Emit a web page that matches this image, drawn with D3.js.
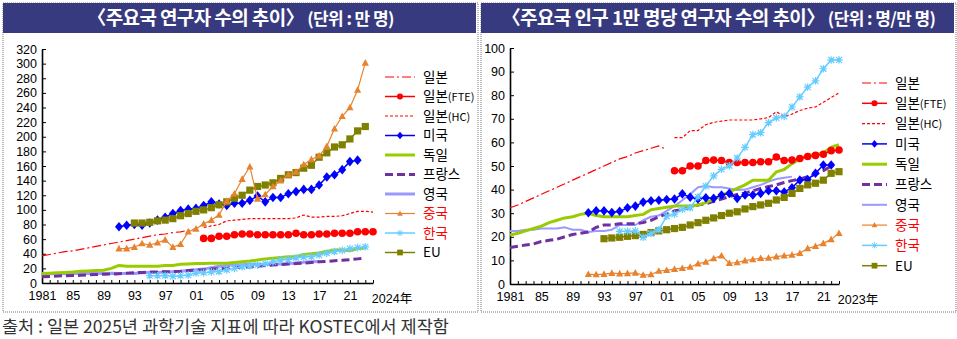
<!DOCTYPE html>
<html>
<head>
<meta charset="utf-8">
<script src="https://cdn.jsdelivr.net/npm/d3@7"></script>
<style>
  body { margin: 0; background: #fff; }
  text { font-family: "Liberation Sans", "Noto Sans CJK KR", sans-serif; }
</style>
</head>
<body>
<svg id="chart" width="957" height="339"></svg>
<script>
// ---- researchers, 만 명 ----
const cntJapanOldYears = d3.range(1981, 2002);
const cntJapanOld = [37,39,41,43,44,46,48,50,52,54,56,58,60,62,64,66,67,69,70,72,74];
const cntJapanFteYears = d3.range(2002, 2025);
const cntJapanFte = [61,61,64,64,66,67,67,66,66,66,66,66,68,66,66,67,67,68,68,68,70,70,70];
const cntJapanHcYears = d3.range(2002, 2025);
const cntJapanHc = [76,78,80,85,86,87,88,88,88,88,88,88,89,93,90,90,91,91,92,95,98,98,97];
const cntUsaYears = d3.range(1991, 2023);
const cntUsa = [77,79,80,79,82,86,90,95,99,101,102,106,111,108,106,109,109,113,119,111,117,117,122,125,128,128,134,145,148,155,166,168];
const cntGermanyYears = d3.range(1981, 2024);
const cntGermany = [13,13.5,14,14.5,15,16,16.5,17,17.5,20,24,23,23,23,23,23,24,24,25.5,26,26.5,26.5,27,27,27,28,29,30,31.5,33,34,35,36,36,39,40,41,43,45,45,44,47,48];
const cntFranceYears = d3.range(1981, 2024);
const cntFrance = [8.5,9,9.5,10,10.2,10.5,11,11.5,12,12.3,12.8,13.5,14,14.5,15,15.2,15.3,15.5,16,17,17.5,18,19,19.5,20,21,21.5,22,23,24,24.5,25,26,26.5,27,28,29,29.5,30.5,31,32,33,34];
const cntUkYears = d3.range(1981, 2018);
const cntUk = [12,12.5,12.5,12.5,13,13,13,13,13,13.5,13,13,13,14,14.5,14.5,15,15.5,16,17,18,19,21,23,24,25,25,25.5,25.5,25.5,25.5,26,26.5,27.5,28.5,29,29.5];
const cntChinaYears = d3.range(1991, 2024);
const cntChina = [47,47,49,54,52,55,59,49,53,70,74,81,86,93,112,122,142,159,115,121,132,140,148,152,162,169,174,187,211,228,240,264,301];
const cntKoreaYears = d3.range(1995, 2024);
const cntKorea = [10,10,10.3,9.2,10,10.8,13.6,14.1,15.2,15.7,17.9,20,22.2,23.6,24.4,26.4,28.8,31.6,32.2,34.5,35.6,36.1,38.3,40.8,43.1,44.6,47.1,48.4,49.5];
const cntEuYears = d3.range(1993, 2024);
const cntEu = [82,82,83,85,86,88,92,95,98,100,103,107,111,116,120,127,132,134,137,143,148,151,157,161,172,178,186,189,197,208,214];

// ---- researchers per 10,000 people ----
const perJapanOldYears = d3.range(1981, 2002);
const perJapanOld = [32.3,33.5,35,36.5,38,39.5,41,42.5,44,45.5,47,48.5,50,51.5,53,54,55.5,56.5,57.5,58.5,57];
const perJapanFteYears = d3.range(2002, 2024);
const perJapanFte = [48,48,50,50,52.3,52.5,52.3,51.5,51.5,51.5,51.5,51.8,51.8,53.8,52.3,52.5,53.2,54,54.5,55,56.5,56.8];
const perJapanHcYears = d3.range(2002, 2024);
const perJapanHc = [62,62,65,65,67.5,68.5,69,69.5,69.5,69.5,69.5,70,70.5,73,71,72,73.5,74.5,75,77,79,81];
const perUsaYears = d3.range(1991, 2023);
const perUsa = [30.2,31,31,30.3,30.8,32.3,33,34.7,35.3,35.5,35.8,36,38.2,36.8,36,36.5,36.3,37.7,38.4,36.3,37.7,37.7,38.4,39.5,39.5,39,40.8,44,44.3,46.9,50.4,50.4];
const perGermanyYears = d3.range(1981, 2024);
const perGermany = [20.8,21.5,22.5,23.5,24.5,26,27,28,28.5,29.5,30,29,28.5,28.5,28.5,28.5,29,29.5,31.5,32,32.5,33,33,33,33.5,34.5,36,37.5,39,40.5,42,44,44,44,47.5,48.5,51,53,54.5,55,55.5,58,59];
const perFranceYears = d3.range(1981, 2023);
const perFrance = [15.5,16,16.5,17,18,18.5,19,20,21,21.5,22,24,25,25,25.5,25.5,25.5,26,27,28.5,29.5,31,31.5,32.5,33.5,34,35,36,37,38,38.5,39.5,40.5,41.3,42,43,43.8,44.5,45.5,46.5,48,50];
const perUkYears = d3.range(1981, 2018);
const perUk = [22.5,22.5,23,23,23.5,23.5,23.5,24,23,23,22,22.5,22.5,23,25,25,25,27,28.5,29,31,33,35.5,38,41,41.5,41,41,40.5,39.8,40,41,42,43.4,44.5,45,45.5];
const perChinaYears = d3.range(1991, 2024);
const perChina = [4.1,4,4.2,4.6,4.4,4.5,4.7,3.8,4,5.5,5.8,6.3,6.7,7.2,8.6,9.3,10.8,12,8.8,9.1,9.9,10.4,10.9,11,11.6,12,12.3,13,15.1,16,17.2,18.9,21.5];
const perKoreaYears = d3.range(1995, 2024);
const perKorea = [22.3,22.3,22.5,19.8,21.4,23,28.7,29.6,31.6,32.3,36.9,41.5,45.8,48.6,50.1,53.4,57.9,63.3,64.1,68.4,70.4,71,75,79.3,83.4,86.1,91.2,94.9,95];
const perEuYears = d3.range(1993, 2024);
const perEu = [19.2,19.5,19.8,20.2,20.5,21,21.8,22.5,23,23.5,24,25,26,27,28,29,30,30.6,31.8,32.8,33.5,34.2,35.6,36.7,38.4,40.5,42,42.7,44,46.9,47.6];

const legendNames = ["일본", "일본(FTE)", "일본(HC)", "미국", "독일", "프랑스", "영국", "중국", "한국", "EU"];
const drawOrder = ["일본", "일본(HC)", "영국", "프랑스", "독일", "일본(FTE)", "미국", "EU", "중국", "한국"];
const redLabels = ["중국", "한국"];

const styles = {
  "일본":      { color: "#ff0000", width: 1.2, dash: "9,3,2,3" },
  "일본(FTE)": { color: "#ff0000", width: 1.5, marker: "circle" },
  "일본(HC)":  { color: "#ff0000", width: 1.2, dash: "3,2" },
  "미국":      { color: "#0000ff", width: 1.5, marker: "diamond" },
  "독일":      { color: "#99cc00", width: 3 },
  "프랑스":    { color: "#7030a0", width: 3, dash: "8,4" },
  "영국":      { color: "#9999ff", width: 3 },
  "중국":      { color: "#e8822e", width: 1.2, marker: "triangle" },
  "한국":      { color: "#66ccff", width: 1.5, marker: "star" },
  "EU":        { color: "#808000", width: 1.5, marker: "square" }
};

const markerPath = {
  circle: "M-3.8,0A3.8,3.8 0 1,0 3.8,0A3.8,3.8 0 1,0 -3.8,0Z",
  diamond: "M0,-4.8L4,0L0,4.8L-4,0Z",
  triangle: "M0,-3.8L3.6,2.8L-3.6,2.8Z",
  square: "M-3.6,-3.6H3.6V3.6H-3.6Z",
  star: "M-3,-3L3,3M-3,3L3,-3M0,-3.8V3.8M-3.8,0H3.8"
};

const svg = d3.select("#chart");

function drawMarker(g, kind, color, x, y, scale = 1) {
  const p = g.append("path")
    .attr("d", markerPath[kind])
    .attr("transform", `translate(${x},${y}) scale(${scale})`);
  if (kind === "star") p.attr("fill", "none").attr("stroke", color).attr("stroke-width", 1.2);
  else p.attr("fill", color);
}

function drawPanel(cfg) {
  const g = svg.append("g");

  // frame + title band
  g.append("rect").attr("x", cfg.frame[0]).attr("y", 3)
    .attr("width", cfg.frame[1] - cfg.frame[0]).attr("height", 309)
    .attr("fill", "none").attr("stroke", "#777").attr("stroke-dasharray", "1,1");
  g.append("rect").attr("x", cfg.frame[0]).attr("y", 3)
    .attr("width", cfg.frame[1] - cfg.frame[0] - 2).attr("height", 30)
    .attr("fill", "#373a7e");
  const title = g.append("text")
    .attr("x", (cfg.frame[0] + cfg.frame[1]) / 2).attr("y", 25)
    .attr("text-anchor", "middle").attr("fill", "#fff")
    .style("font-family", "'Noto Sans CJK KR', sans-serif")
    .style("font-weight", "bold").style("font-size", "19px")
    .style("letter-spacing", "-0.6px");
  title.append("tspan").text(cfg.title);
  title.append("tspan").style("font-size", "17px").text(" " + cfg.unit);

  const x = d3.scaleLinear().domain(cfg.xDomain).range(cfg.xRange);
  const y = d3.scaleLinear().domain(cfg.yDomain).range(cfg.yRange);

  // y axis
  g.append("g")
    .attr("transform", `translate(${cfg.xRange[0]},0)`)
    .call(d3.axisLeft(y).tickValues(d3.range(0, cfg.yDomain[1] + 1, cfg.yStep))
      .tickSizeInner(-4).tickSizeOuter(0).tickPadding(5))
    .call(a => a.select(".domain").attr("stroke-width", 1.6))
    .call(a => a.selectAll("text").style("font-size", "12.5px").attr("fill", "#000"));

  // x axis: a tick every year, labels every 4 years
  const years = d3.range(cfg.xDomain[0], cfg.xDomain[1] + 1);
  g.append("g")
    .attr("transform", `translate(0,${cfg.yRange[0]})`)
    .call(d3.axisBottom(x).tickValues(years).tickSizeInner(-3).tickSizeOuter(0).tickFormat(""))
    .call(a => a.select(".domain").attr("stroke-width", 1.6));
  const labelYears = d3.range(1981, 2022, 4);
  g.append("g")
    .attr("transform", `translate(0,${cfg.yRange[0]})`)
    .call(d3.axisBottom(x).tickValues(labelYears).tickSize(0).tickPadding(8)
      .tickFormat(d => d === 1981 ? "1981" : String(d % 100).padStart(2, "0")))
    .call(a => a.select(".domain").remove())
    .call(a => a.selectAll("text").style("font-size", "12.5px").attr("fill", "#000"));
  g.append("text")
    .attr("x", x(cfg.xDomain[1]) + cfg.endLabelShift).attr("y", cfg.yRange[0] + 20)
    .attr("text-anchor", "middle").style("font-size", "12.5px")
    .text(cfg.xDomain[1] + "年");

  // series
  const line = d3.line().x(d => x(d[0])).y(d => y(d[1]));
  drawOrder.forEach(name => {
    const s = cfg.series[name];
    const st = Object.assign({}, styles[name], (cfg.override || {})[name] || {});
    const pts = d3.zip(s.years, s.values);
    g.append("path").datum(pts)
      .attr("d", line).attr("fill", "none")
      .attr("stroke", st.color).attr("stroke-width", st.width)
      .attr("stroke-dasharray", st.dash || null)
      .attr("stroke-linejoin", "round");
    if (st.marker) pts.forEach(p => drawMarker(g, st.marker, st.color, x(p[0]), y(p[1])));
  });

  // legend
  legendNames.forEach((name, i) => {
    const st = Object.assign({}, styles[name], (cfg.override || {})[name] || {});
    const ly = cfg.legend.y0 + i * cfg.legend.step;
    g.append("line")
      .attr("x1", cfg.legend.x0).attr("x2", cfg.legend.x1)
      .attr("y1", ly).attr("y2", ly)
      .attr("stroke", st.color).attr("stroke-width", st.width)
      .attr("stroke-dasharray", st.dash || null);
    if (st.marker) drawMarker(g, st.marker, st.color, (cfg.legend.x0 + cfg.legend.x1) / 2, ly, 0.8);
    const t = g.append("text")
      .attr("x", cfg.legend.tx).attr("y", ly).attr("dy", "0.36em")
      .style("font-family", "'Noto Sans CJK KR', sans-serif").style("font-size", "13.5px")
      .attr("fill", redLabels.includes(name) ? "#ff0000" : "#000");
    const m = name.match(/^(.*?)(\(.*\))?$/);
    t.append("tspan").text(m[1]);
    if (m[2]) t.append("tspan").style("font-size", "11px").text(m[2]);
  });
}

drawPanel({
  frame: [3, 478],
  title: "〈주요국 연구자 수의 추이〉",
  unit: "(단위 : 만 명)",
  xDomain: [1981, 2024], xRange: [42, 373],
  yDomain: [0, 320], yRange: [283, 49], yStep: 20,
  endLabelShift: 19,
  legend: { x0: 385, x1: 415, tx: 423, y0: 77, step: 19.5 },
  series: {
    "일본": { years: cntJapanOldYears, values: cntJapanOld },
    "일본(FTE)": { years: cntJapanFteYears, values: cntJapanFte },
    "일본(HC)": { years: cntJapanHcYears, values: cntJapanHc },
    "미국": { years: cntUsaYears, values: cntUsa },
    "독일": { years: cntGermanyYears, values: cntGermany },
    "프랑스": { years: cntFranceYears, values: cntFrance },
    "영국": { years: cntUkYears, values: cntUk },
    "중국": { years: cntChinaYears, values: cntChina },
    "한국": { years: cntKoreaYears, values: cntKorea },
    "EU": { years: cntEuYears, values: cntEu }
  }
});

drawPanel({
  frame: [481, 956],
  title: "〈주요국 인구 1만 명당 연구자 수의 추이〉",
  unit: "(단위 : 명/만 명)",
  xDomain: [1981, 2023], xRange: [510, 839],
  yDomain: [0, 100], yRange: [284, 48], yStep: 10,
  endLabelShift: 19,
  legend: { x0: 862, x1: 887, tx: 895, y0: 83, step: 20.3 },
  override: { "영국": { width: 2 } },
  series: {
    "일본": { years: perJapanOldYears, values: perJapanOld },
    "일본(FTE)": { years: perJapanFteYears, values: perJapanFte },
    "일본(HC)": { years: perJapanHcYears, values: perJapanHc },
    "미국": { years: perUsaYears, values: perUsa },
    "독일": { years: perGermanyYears, values: perGermany },
    "프랑스": { years: perFranceYears, values: perFrance },
    "영국": { years: perUkYears, values: perUk },
    "중국": { years: perChinaYears, values: perChina },
    "한국": { years: perKoreaYears, values: perKorea },
    "EU": { years: perEuYears, values: perEu }
  }
});

svg.append("text")
  .attr("x", 2).attr("y", 333)
  .style("font-family", "'Noto Sans CJK KR', sans-serif").style("font-size", "17.5px")
  .attr("fill", "#333")
  .text("출처 : 일본 2025년 과학기술 지표에 따라 KOSTEC에서 제작함");
</script>
</body>
</html>
